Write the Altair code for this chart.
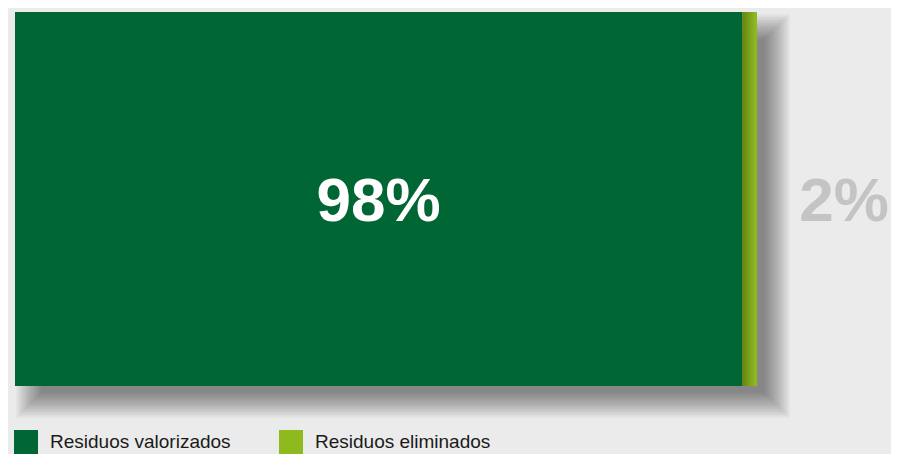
import altair as alt
import pandas as pd

categories = ["Residuos valorizados", "Residuos eliminados"]
values = [98, 2]
labels = ["98%", "2%"]
colors = ["#006633", "#8fba1f"]

df = pd.DataFrame({"category": categories, "value": values, "label": labels, "order": [0, 1]})

W, H = 883, 446
xscale = alt.Scale(domain=[0, 100], range=[7, 749])

base = alt.Chart(df).transform_stack(
    stack="value", as_=["x0", "x1"], groupby=[], sort=[alt.SortField("order")]
).transform_calculate(mid="(datum.x0 + datum.x1) / 2")

# soft drop shadow (stacked translucent rectangles)
shadow_layers = []
n = 18
for i in range(n):
    shadow_layers.append(
        base.transform_filter("datum.order == 0").mark_rect(color="black", opacity=0.028).encode(
            x=alt.value(8 + 1.5 * i), x2=alt.value(782 - 1.5 * i),
            y=alt.value(6 + 1.5 * i), y2=alt.value(410 - 1.5 * i),
        )
    )

bar = base.mark_rect().encode(
    x=alt.X("x0:Q", scale=xscale, axis=None),
    x2="x1:Q",
    y=alt.value(4), y2=alt.value(378),
    color=alt.Color(
        "category:N",
        scale=alt.Scale(domain=categories, range=colors),
        legend=alt.Legend(
            title=None, orient="none", legendX=6, legendY=422, direction="horizontal",
            columns=2, symbolType="square", symbolSize=576, symbolStrokeWidth=0,
            symbolOpacity=1, labelFontSize=19, labelFont="Liberation Sans",
            labelColor="#1a1a1a", labelOffset=12, columnPadding=48, labelLimit=400,
        ),
    ),
)

grad = alt.LinearGradient(
    gradient="linear",
    stops=[alt.GradientStop(color="rgba(0,0,0,0.3)", offset=0),
           alt.GradientStop(color="rgba(0,0,0,0)", offset=0.9)],
    x1=0, x2=1, y1=0, y2=0,
)
overlay = base.transform_filter("datum.order == 1").mark_rect(color=grad).encode(
    x=alt.X("x0:Q", scale=xscale, axis=None), x2="x1:Q",
    y=alt.value(4), y2=alt.value(378),
)

big_label = base.transform_filter("datum.order == 0").mark_text(
    font="Liberation Sans", fontSize=62, fontWeight="bold", color="white", baseline="middle"
).encode(x=alt.X("mid:Q", scale=xscale, axis=None), y=alt.value(194), text="label:N")

small_label = base.transform_filter("datum.order == 1").mark_text(
    font="Liberation Sans", fontSize=62, fontWeight="bold", color="#c4c4c4", baseline="middle", dx=87
).encode(x=alt.X("x1:Q", scale=xscale, axis=None), y=alt.value(194), text="label:N")

chart = alt.layer(*shadow_layers, bar, overlay, big_label, small_label).properties(
    width=W, height=H, autosize="none", padding=0, background="#ebebeb"
).configure_view(stroke=None)

chart.save("out.html", embed_options={"renderer": "svg", "actions": False})
